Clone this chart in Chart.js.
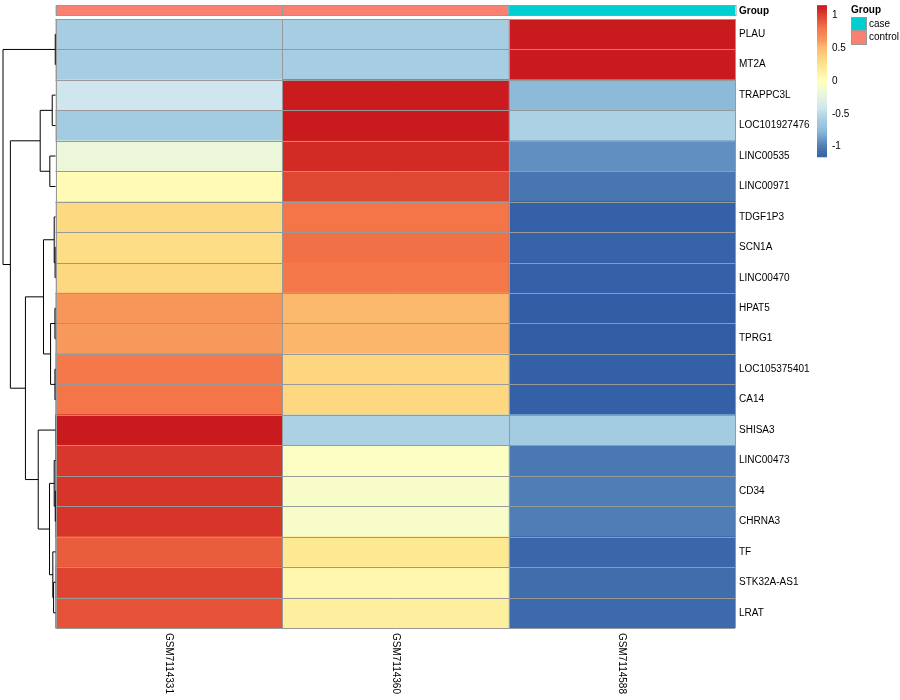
<!DOCTYPE html>
<html>
<head>
<meta charset="utf-8">
<script src="https://cdn.jsdelivr.net/npm/chart.js@4.4.1/dist/chart.umd.min.js"></script>
<style>
    body { margin: 0; background: #fff; }
    canvas { display: block; }
</style>
</head>
<body>
<canvas id="heatmap" width="900" height="700"></canvas>
<script>
// genes in dendrogram order (top to bottom)
const genes = ['PLAU', 'MT2A', 'TRAPPC3L', 'LOC101927476', 'LINC00535', 'LINC00971', 'TDGF1P3', 'SCN1A',
    'LINC00470', 'HPAT5', 'TPRG1', 'LOC105375401', 'CA14', 'SHISA3', 'LINC00473', 'CD34', 'CHRNA3',
    'TF', 'STK32A-AS1', 'LRAT'];
const samples = ['GSM7114331', 'GSM7114360', 'GSM7114588'];
const sampleGroups = ['control', 'control', 'case'];
const groupNames = ['case', 'control'];
const groupColors = { case: '#00CED1', control: '#FA8072' };

// row-scaled expression (z-score), one array per sample
const valsGSM7114331 = [-0.58, -0.58, -0.40, -0.60, -0.17, 0.04, 0.33, 0.30, 0.34, 0.63,
    0.62, 0.79, 0.80, 1.15, 1.03, 1.04, 1.04, 0.89, 0.98, 0.93];
const valsGSM7114360 = [-0.58, -0.58, 1.14, 1.15, 1.08, 0.97, 0.80, 0.82, 0.79, 0.52,
    0.53, 0.35, 0.34, -0.55, -0.03, -0.06, -0.06, 0.21, 0.08, 0.15];
const valsGSM7114588 = [1.15, 1.15, -0.74, -0.55, -0.91, -1.01, -1.13, -1.12, -1.13, -1.15,
    -1.15, -1.14, -1.14, -0.60, -1.00, -0.98, -0.98, -1.10, -1.06, -1.08];
const sampleValues = [valsGSM7114331, valsGSM7114360, valsGSM7114588];

// row clustering, hclust style: negative = leaf (1-based), positive = earlier merge
const dendroMerge = [[-1, -2], [-16, -17], [-8, -9], [-10, -11], [-12, -13], [-7, 3], [-15, 2],
    [-19, -20], [-18, 8], [-3, -4], [4, 5], [-5, -6], [7, 9], [6, 11], [10, 12], [-14, 13],
    [14, 16], [15, 17], [1, 18]];
const dendroHeight = [0.02, 0.02, 0.03, 0.04, 0.04, 0.09, 0.09, 0.13, 0.18, 0.22, 0.33, 0.38,
    0.40, 0.80, 1.02, 1.15, 2.0, 3.0, 3.49];

const legendTicks = [1, 0.5, 0, -0.5, -1];

const colorStops = [
    [-1.155, [49, 93, 166]], [-1.0, [74, 120, 178]], [-0.9, [98, 146, 193]], [-0.75, [140, 185, 216]],
    [-0.58, [166, 205, 226]], [-0.4, [207, 230, 239]], [-0.17, [236, 247, 218]], [0, [255, 255, 191]],
    [0.2, [254, 234, 148]], [0.34, [253, 216, 128]], [0.52, [251, 185, 110]], [0.63, [248, 150, 90]],
    [0.8, [244, 118, 72]], [0.97, [224, 71, 50]], [1.08, [210, 42, 37]], [1.155, [200, 25, 30]]
];

function heatColor(v) {
    if (v <= colorStops[0][0]) return `rgb(${colorStops[0][1].join(',')})`;
    for (let k = 1; k < colorStops.length; k++) {
        const [v1, c1] = colorStops[k];
        if (v <= v1) {
            const [v0, c0] = colorStops[k - 1];
            const t = (v - v0) / (v1 - v0);
            const c = c0.map((a, n) => Math.round(a + (c1[n] - a) * t));
            return `rgb(${c.join(',')})`;
        }
    }
    return `rgb(${colorStops[colorStops.length - 1][1].join(',')})`;
}

const FONT = "'Liberation Sans', Arial, Helvetica, sans-serif";
const DENDRO_MIN = -0.232;

const decorPlugin = {
    id: 'decor',
    afterDatasetsDraw(chart) {
        const ctx = chart.ctx;
        const xs = chart.scales.x;
        const ys = chart.scales.y;
        const half = (ys.getPixelForValue(1) - ys.getPixelForValue(0)) / 2;
        const top = ys.getPixelForValue(0) - half;
        const bottom = ys.getPixelForValue(genes.length - 1) + half;
        const left = xs.getPixelForValue(0);
        const right = xs.getPixelForValue(samples.length);

        ctx.save();
        // cell borders
        ctx.strokeStyle = '#999999';
        ctx.lineWidth = 1;
        ctx.beginPath();
        for (let i = 0; i <= genes.length; i++) {
            const y = Math.round(top + i * 2 * half) + 0.5;
            ctx.moveTo(left, y);
            ctx.lineTo(right, y);
        }
        for (let j = 0; j <= samples.length; j++) {
            const x = Math.round(xs.getPixelForValue(j)) + 0.5;
            ctx.moveTo(x, top);
            ctx.lineTo(x, bottom);
        }
        ctx.stroke();

        // group annotation bar
        samples.forEach((s, j) => {
            const x0 = xs.getPixelForValue(j), x1 = xs.getPixelForValue(j + 1);
            ctx.fillStyle = groupColors[sampleGroups[j]];
            ctx.fillRect(x0, 5.5, x1 - x0, 10);
            ctx.strokeStyle = '#999999';
            ctx.strokeRect(Math.round(x0) + 0.5, 5.5, x1 - x0, 10);
        });
        ctx.fillStyle = '#000';
        ctx.font = `bold 10px ${FONT}`;
        ctx.textBaseline = 'middle';
        ctx.textAlign = 'left';
        ctx.fillText('Group', right + 4, 11);

        // column labels, rotated
        ctx.font = `10px ${FONT}`;
        samples.forEach((s, j) => {
            ctx.save();
            ctx.translate(xs.getPixelForValue(j + 0.5), bottom + 5);
            ctx.rotate(Math.PI / 2);
            ctx.textAlign = 'left';
            ctx.textBaseline = 'middle';
            ctx.fillText(s, 0, 0);
            ctx.restore();
        });

        // row dendrogram
        const maxH = Math.max(...dendroHeight);
        const nodes = [];
        const pos = id => id < 0
            ? { x: xs.getPixelForValue(0), y: ys.getPixelForValue(-id - 1) }
            : nodes[id - 1];
        ctx.strokeStyle = '#000';
        ctx.lineWidth = 1;
        ctx.beginPath();
        dendroMerge.forEach(([a, b], k) => {
            const pa = pos(a), pb = pos(b);
            const x = xs.getPixelForValue(DENDRO_MIN * dendroHeight[k] / maxH);
            ctx.moveTo(pa.x, pa.y);
            ctx.lineTo(x, pa.y);
            ctx.lineTo(x, pb.y);
            ctx.lineTo(pb.x, pb.y);
            nodes.push({ x, y: (pa.y + pb.y) / 2 });
        });
        ctx.stroke();

        // colour key
        const keyX = 817, keyW = 10;
        const keyY = v => 81 - v * 65.6;
        for (let v = -1.155; v < 1.155; v += 0.01) {
            ctx.fillStyle = heatColor(v + 0.005);
            ctx.fillRect(keyX, keyY(v + 0.01), keyW, keyY(v) - keyY(v + 0.01) + 0.5);
        }
        ctx.fillStyle = '#000';
        ctx.font = `10px ${FONT}`;
        ctx.textBaseline = 'middle';
        legendTicks.forEach(t => ctx.fillText(String(t), keyX + 15, keyY(t)));

        // group legend
        ctx.font = `bold 10px ${FONT}`;
        ctx.fillText('Group', 851, 10);
        ctx.font = `10px ${FONT}`;
        groupNames.forEach((g, n) => {
            const y = 17 + n * 13.5;
            ctx.fillStyle = groupColors[g];
            ctx.fillRect(851, y, 15, 13.5);
            ctx.strokeStyle = '#999999';
            ctx.strokeRect(851.5, y + 0.5, 15, 13.5);
            ctx.fillStyle = '#000';
            ctx.fillText(g, 869, y + 7);
        });
        ctx.restore();
    }
};

new Chart(document.getElementById('heatmap'), {
    type: 'bar',
    data: {
        labels: genes,
        datasets: samples.map((s, j) => ({
            label: s,
            data: genes.map(() => [j, j + 1]),
            backgroundColor: sampleValues[j].map(heatColor),
            borderWidth: 0,
            barPercentage: 1,
            categoryPercentage: 1,
            grouped: false
        }))
    },
    options: {
        indexAxis: 'y',
        responsive: false,
        animation: false,
        layout: { padding: { left: 3, top: 19, bottom: 72, right: 0 } },
        plugins: { legend: { display: false }, tooltip: { enabled: false } },
        scales: {
            x: { type: 'linear', min: DENDRO_MIN, max: 3, display: false },
            y: {
                position: 'right',
                grid: { display: false, drawTicks: false },
                border: { display: false },
                ticks: { color: '#000', font: { family: FONT, size: 10 }, padding: 4 },
                afterFit: scale => { scale.width = 165; }
            }
        }
    },
    plugins: [decorPlugin]
});
</script>
</body>
</html>
